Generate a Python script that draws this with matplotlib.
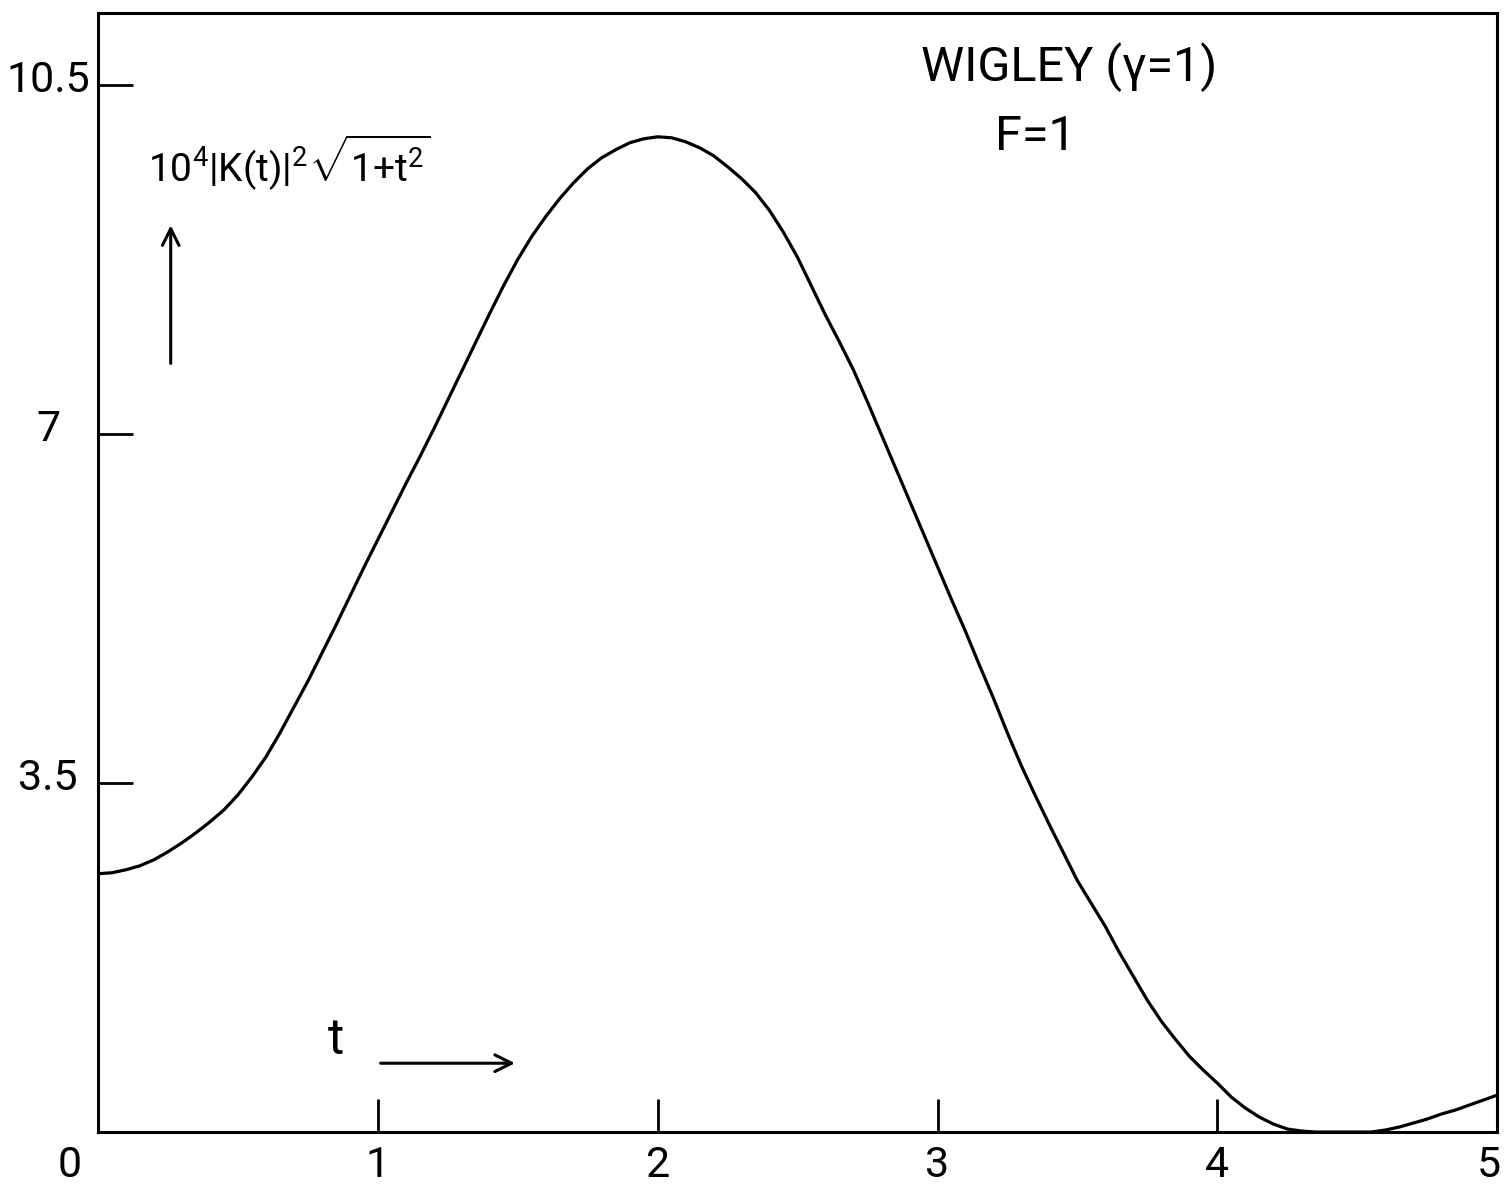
"""
Wigley hull (gamma = 1), F = 1:  10^4 |K(t)|^2 sqrt(1+t^2) against t.
Output: out.png
"""
import matplotlib
matplotlib.use("Agg")
import matplotlib.pyplot as plt
import matplotlib.transforms as mtransforms

FONT = ["Roboto", "DejaVu Sans"]

plt.rcParams.update({
    "font.family": FONT,
    "font.weight": "normal",
    "mathtext.fontset": "custom",
    "mathtext.rm": "Roboto",
    "mathtext.it": "Roboto",
    "mathtext.bf": "Roboto:bold",
    "axes.linewidth": 2.2,
})

# values
t_values = [0.00, 0.05, 0.10, 0.15, 0.20, 0.25, 0.30, 0.35, 0.40, 0.45,
            0.50, 0.55, 0.60, 0.65, 0.70, 0.75, 0.80, 0.85, 0.90, 0.95,
            1.00, 1.05, 1.10, 1.15, 1.20, 1.25, 1.30, 1.35, 1.40, 1.45,
            1.50, 1.55, 1.60, 1.65, 1.70, 1.75, 1.80, 1.85, 1.90, 1.95,
            2.00, 2.05, 2.10, 2.15, 2.20, 2.25, 2.30, 2.35, 2.40, 2.45,
            2.50, 2.55, 2.60, 2.65, 2.70, 2.75, 2.80, 2.85, 2.90, 2.95,
            3.00, 3.05, 3.10, 3.15, 3.20, 3.25, 3.30, 3.35, 3.40, 3.45,
            3.50, 3.55, 3.60, 3.65, 3.70, 3.75, 3.80, 3.85, 3.90, 3.95,
            4.00, 4.05, 4.10, 4.15, 4.20, 4.25, 4.30, 4.35, 4.40, 4.45,
            4.50, 4.55, 4.60, 4.65, 4.70, 4.75, 4.80, 4.85, 4.90, 4.95, 5.00]
k_values = [2.59, 2.60, 2.63, 2.67, 2.73, 2.81, 2.90, 3.00, 3.11, 3.23,
            3.38, 3.56, 3.76, 4.00, 4.26, 4.52, 4.80, 5.08, 5.37, 5.66,
            5.94, 6.22, 6.50, 6.77, 7.05, 7.34, 7.63, 7.92, 8.21, 8.49,
            8.75, 8.98, 9.18, 9.36, 9.52, 9.66, 9.77, 9.85, 9.92, 9.96,
            9.98, 9.97, 9.93, 9.87, 9.79, 9.68, 9.56, 9.42, 9.24, 9.02,
            8.77, 8.48, 8.19, 7.92, 7.64, 7.32, 6.99, 6.66, 6.33, 6.00,
            5.67, 5.34, 5.02, 4.68, 4.35, 4.00, 3.67, 3.37, 3.08, 2.80,
            2.52, 2.29, 2.06, 1.80, 1.56, 1.32, 1.11, 0.93, 0.76, 0.62,
            0.49, 0.35, 0.24, 0.15, 0.08, 0.03, 0.01, 0.00, 0.00, 0.00,
            0.00, 0.00, 0.02, 0.05, 0.09, 0.13, 0.18, 0.22, 0.27, 0.32, 0.37]

x_ticks = [0, 1, 2, 3, 4, 5]
x_tick_labels = ["0", "1", "2", "3", "4", "5"]
y_ticks = [3.5, 7, 10.5]
y_tick_labels = ["3.5", "7", "10.5"]


def shift(artist, fig, dx_px, dy_px):
    artist.set_transform(artist.get_transform() +
                         mtransforms.ScaledTranslation(dx_px / fig.dpi, dy_px / fig.dpi,
                                                       fig.dpi_scale_trans))


def main():
    fig = plt.figure(figsize=(15.07, 11.95), dpi=100)
    ax = fig.add_axes([0.065, 0.0527, 0.9285, 0.9363])

    ax.plot(t_values, k_values, color="black", lw=2.3,
            solid_capstyle="round", solid_joinstyle="round")

    ax.set_xlim(0, 5)
    ax.set_ylim(0, 11.22)

    ax.set_xticks(x_ticks, x_tick_labels)
    ax.set_yticks(y_ticks, y_tick_labels)
    ax.tick_params(axis="both", direction="in", width=2, colors="black",
                   labelsize=31)
    ax.tick_params(axis="x", length=24, pad=9)
    ax.tick_params(axis="y", length=25, pad=36)
    for lab in ax.get_yticklabels():
        lab.set_horizontalalignment("center")
        shift(lab, fig, 0, 9)
    xl = ax.get_xticklabels()
    shift(xl[0], fig, -28, 0)   # origin label sits left of the corner
    shift(xl[-1], fig, -8, 0)
    for tick in [ax.xaxis.get_major_ticks()[0], ax.xaxis.get_major_ticks()[-1]]:
        tick.tick1line.set_visible(False)

    # annotations
    ax.text(0.18, 9.72, r"$\mathrm{10^4|K(t)|^2\sqrt{1{+}t^2}}$", fontsize=28,
            ha="left", va="center")
    ax.annotate("", xy=(0.26, 9.12), xytext=(0.26, 7.68),
                arrowprops=dict(arrowstyle="->", lw=2.2, color="black",
                                mutation_scale=30))
    ax.text(0.85, 0.92, "t", fontsize=36, ha="center", va="center")
    ax.annotate("", xy=(1.5, 0.69), xytext=(1.0, 0.69),
                arrowprops=dict(arrowstyle="->", lw=2.2, color="black",
                                mutation_scale=30))

    ax.text(3.47, 10.68, "WIGLEY (\u03b3=1)", fontsize=35, ha="center", va="center")
    ax.text(3.35, 9.98, "F=1", fontsize=35, ha="center", va="center")

    fig.savefig("out.png", dpi=100, facecolor="white")
    plt.close(fig)


if __name__ == "__main__":
    main()
